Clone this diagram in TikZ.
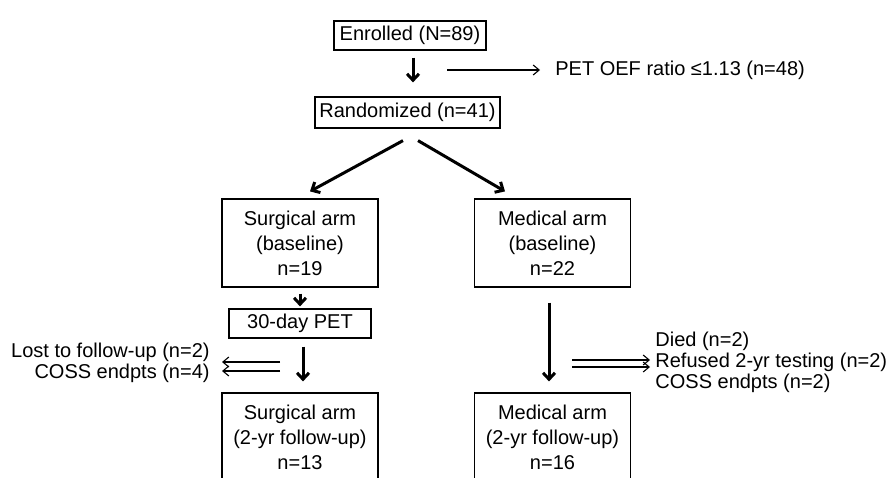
\documentclass[tikz,border=0pt]{standalone}
\usepackage{fontspec}
\setmainfont{Liberation Sans}
\usetikzlibrary{positioning,arrows.meta}
\tikzset{
  box/.style={draw,line width=0.6pt,inner sep=0pt,align=center},
  armbox/.style={box,minimum width=78pt,minimum height=44pt},
  note/.style={inner sep=0pt,font=\fontsize{10}{10.5}\selectfont},
  bigarrow/.style={line width=1.5pt,-{Straight Barb[length=3.2pt,width=6pt]}},
  thinarrow/.style={line width=0.55pt,-{Straight Barb[length=3pt,width=5pt]}},
}

\begin{document}
\begin{tikzpicture}[x=0.5pt,y=-0.5pt,font=\fontsize{10}{12.5}\selectfont]
  \useasboundingbox (0,0) rectangle (888,477);
  \clip (0,0) rectangle (888,477);
  \node[box,minimum width=76pt,minimum height=14.5pt]   (enrolled) at (410,35.5)  {Enrolled (N=89)};
  \node[box,minimum width=92.5pt,minimum height=15.5pt] (random)   at (407.5,112.5) {Randomized (n=41)};
  \node[armbox] (surg)   at (300,243)   {Surgical arm\\(baseline)\\n=19};
  \node[armbox] (med)    at (552.5,243) {Medical arm\\(baseline)\\n=22};
  \node[box,minimum width=71pt,minimum height=14.5pt]   (pet)      at (300,323.5) {30-day PET};
  \node[armbox] (surgfu) at (300,437)   {Surgical arm\\(2-yr follow-up)\\n=13};
  \node[armbox] (medfu)  at (552.5,437) {Medical arm\\(2-yr follow-up)\\n=16};
  \node[note,anchor=west]             (excl) at (555,70)    {PET OEF ratio ≤1.13 (n=48)};
  \node[note,anchor=east,align=right] (lost) at (210,362.5) {Lost to follow-up (n=2)\\COSS endpts (n=4)};
  \node[note,anchor=west,align=left]  (drop) at (655,362)   {Died (n=2)\\Refused 2-yr testing (n=2)\\COSS endpts (n=2)};
  \coordinate (exclfrom)  at (447,70);
  \coordinate (lostfrom1) at (280,362);
  \coordinate (lostfrom2) at (280,371);
  \coordinate (dropfrom1) at (572,360);
  \coordinate (dropfrom2) at (572,367);
  % main flow
  \draw[bigarrow] ([shift={(3,7)}]enrolled.south) -- ([shift={(5.5,-14)}]random.north);
  \draw[bigarrow] ([shift={(-4.5,12)}]random.south) -- ([shift={(10,-7)}]surg.north);
  \draw[bigarrow] ([shift={(10.5,12)}]random.south) -- ([shift={(-47.5,-7)}]med.north);
  \draw[bigarrow] ([shift={(0,6)}]surg.south) -- ([shift={(0,-2)}]pet.north);
  \draw[bigarrow] ([shift={(3,8)}]pet.south) -- ([shift={(3,-11)}]surgfu.north);
  \draw[bigarrow] ([shift={(-3.5,15)}]med.south) -- ([shift={(-3.5,-11)}]medfu.north);
  % drop-outs
  \draw[thinarrow,shorten >=7.5pt] (exclfrom) -- (excl.west);
  \draw[thinarrow,shorten >=6pt] (lostfrom1) -- (lostfrom1 -| lost.east);
  \draw[thinarrow,shorten >=6pt] (lostfrom2) -- (lostfrom2 -| lost.east);
  \draw[thinarrow,shorten >=2.5pt] (dropfrom1) -- (dropfrom1 -| drop.west);
  \draw[thinarrow,shorten >=2.5pt] (dropfrom2) -- (dropfrom2 -| drop.west);
\end{tikzpicture}
\end{document}
